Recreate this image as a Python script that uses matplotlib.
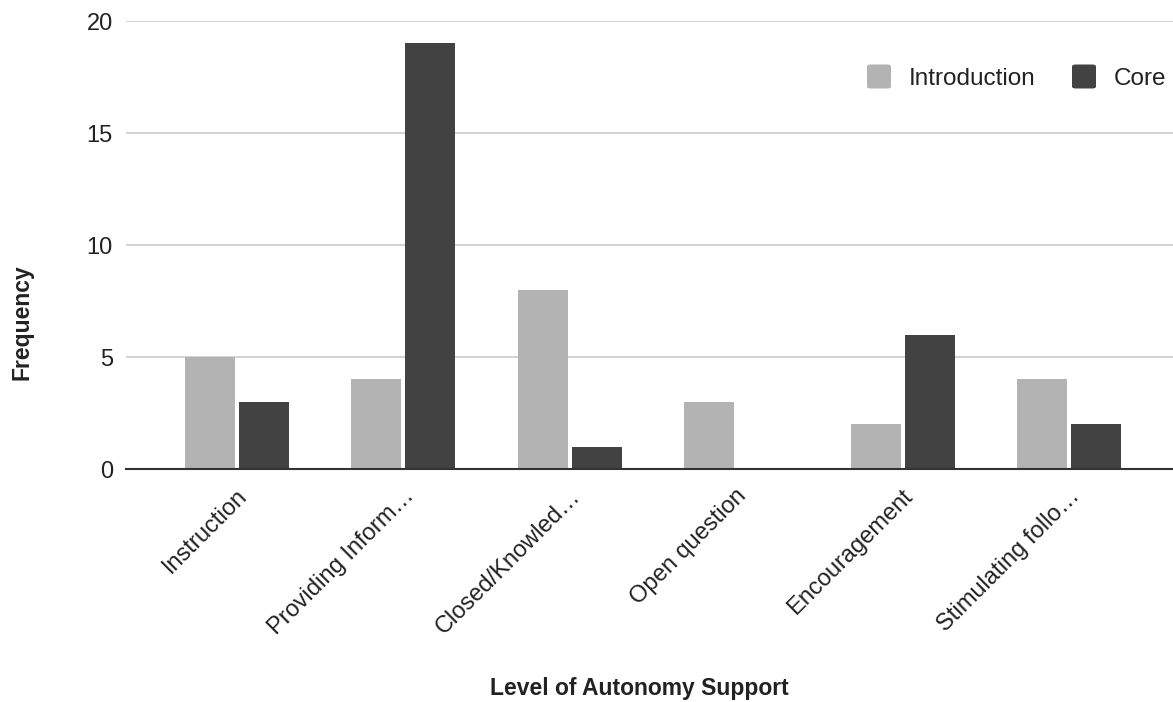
import matplotlib
matplotlib.use("Agg")
import matplotlib.pyplot as plt
from matplotlib.patches import FancyBboxPatch
from matplotlib.transforms import ScaledTranslation
import numpy as np

categories = ["Instruction", "Providing Inform…", "Closed/Knowled…",
              "Open question", "Encouragement", "Stimulating follo…"]
introduction = [5, 4, 8, 3, 2, 4]
core = [3, 19, 1, 0, 6, 2]
y_ticks = [0, 5, 10, 15, 20]
series_names = ["Introduction", "Core"]
series_colors = ["#b3b3b3", "#424242"]

plt.rcParams["font.family"] = ["Liberation Sans", "DejaVu Sans"]

W, H = 1173, 702
fig = plt.figure(figsize=(W / 100, H / 100), dpi=100)
ax = fig.add_axes([126 / W, 233 / H, (W - 126) / W, 448 / H])

x = np.arange(len(categories))
w = 0.3
gap = 0.012
ax.bar(x - w / 2 - gap, introduction, width=w, color=series_colors[0], zorder=3)
ax.bar(x + w / 2 + gap, core, width=w, color=series_colors[1], zorder=3)

ax.set_xlim(-0.667, 5.625)
ax.set_ylim(0, 20)
ax.set_yticks(y_ticks)
ax.yaxis.grid(True, color="#cccccc", linewidth=1.2, zorder=0)
ax.set_axisbelow(True)
for s in ["top", "right", "left"]:
    ax.spines[s].set_visible(False)
ax.spines["bottom"].set_color("#333333")
ax.spines["bottom"].set_linewidth(1.5)
ax.spines["bottom"].set_zorder(4)

ax.tick_params(axis="both", length=0, labelsize=17, colors="#222222")
ax.tick_params(axis="y", pad=9.5)
ax.set_xticks(x)
ax.set_xticklabels(categories, rotation=45, ha="right", va="center", rotation_mode="anchor")
for lbl in ax.get_xticklabels():
    lbl.set_transform(lbl.get_transform() + ScaledTranslation(0.07, -0.19, fig.dpi_scale_trans))

fig.text(639.5 / W, 1 - 688 / H, "Level of Autonomy Support", ha="center", va="center",
         fontsize=16.5, fontweight="bold", color="#222222")
fig.text(22 / W, 1 - 322 / H, "Frequency", ha="center", va="center", rotation=90,
         fontsize=16.5, fontweight="bold", color="#222222")

# legend: rounded swatches followed by series names
legend_y = 76.5
swatch_x = [867, 1072]
text_x = [909, 1114]
for sx, tx, name, col in zip(swatch_x, text_x, series_names, series_colors):
    fig.patches.append(FancyBboxPatch(
        ((sx) / W, 1 - (legend_y + 12) / H), 24 / W, 24 / H,
        boxstyle="round,pad=0,rounding_size=0.003", transform=fig.transFigure,
        facecolor=col, edgecolor="none"))
    fig.text(tx / W, 1 - legend_y / H, name, ha="left", va="center_baseline",
             fontsize=17.5, color="#222222")

fig.savefig("out.png", dpi=100)
